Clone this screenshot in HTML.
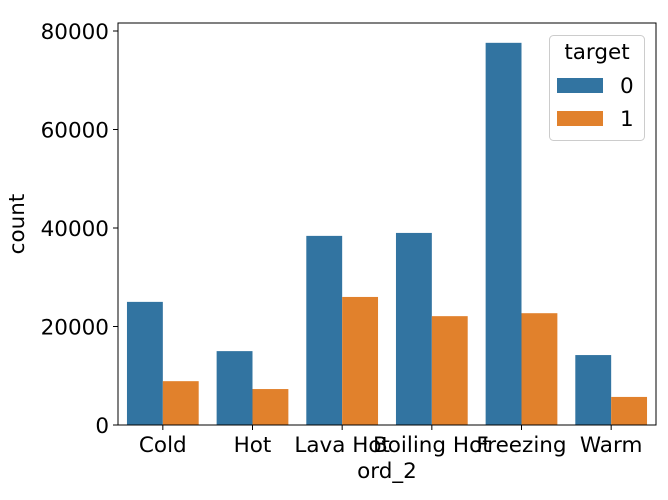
<!DOCTYPE html>
<html><head><meta charset="utf-8"><style>
body{margin:0;background:#fff;}
svg text{font-family:"DejaVu Sans","Liberation Sans",sans-serif;fill:#000;}
</style></head><body>
<svg id="chart" width="668" height="495">
<g id="bars"></g>
<rect x="118" y="23" width="538" height="402" fill="none" stroke="#000" stroke-width="1"/>
<g id="yticks"></g>
<g id="xticks"></g>
<text x="24" y="224" font-size="21.5" text-anchor="middle" transform="rotate(-90 24 224)">count</text>
<text x="387" y="478" font-size="21.5" text-anchor="middle">ord_2</text>
<g>
<rect x="549.5" y="35.5" width="95" height="105" rx="4" fill="#fff" fill-opacity="0.8" stroke="#ccc"/>
<text x="597" y="59" font-size="21.5" text-anchor="middle">target</text>
<rect x="557" y="78" width="46" height="15" fill="#3274a1"/>
<text x="620" y="93" font-size="21.5">0</text>
<rect x="557" y="111" width="46" height="15" fill="#e1812c"/>
<text x="620" y="126" font-size="21.5">1</text>
</g>
</svg>
<script>
const categories=["Cold","Hot","Lava Hot","Boiling Hot","Freezing","Warm"];
const series0=[25000,15000,38400,39000,77600,14200];
const series1=[8900,7300,26000,22100,22700,5700];
const yTicks=[0,20000,40000,60000,80000];
const NS="http://www.w3.org/2000/svg";
const x0=118,x1=656,yBase=425,yTop80=31;
const slot=(x1-x0)/categories.length;
const xc=i=>x0+slot*(i+0.5);
const y=v=>yBase-(v/80000)*(yBase-yTop80);
function mk(t,a,p){const e=document.createElementNS(NS,t);for(const k in a)e.setAttribute(k,a[k]);p.appendChild(e);return e;}
const bars=document.getElementById('bars');
const bw=slot*0.4;
categories.forEach((c,i)=>{
  const b0=mk('rect',{x:xc(i)-bw,y:y(series0[i]),width:bw,height:yBase-y(series0[i]),fill:'#3274a1'},bars);
  
  
  const b1=mk('rect',{x:xc(i),y:y(series1[i]),width:bw,height:yBase-y(series1[i]),fill:'#e1812c'},bars);
  
  
});
const yt=document.getElementById('yticks');
yTicks.forEach(v=>{
  const l=mk('line',{x1:x0-5,x2:x0,y1:y(v),y2:y(v),stroke:'#000'},yt);
  
  
  const t=mk('text',{x:x0-9,y:y(v)+8,'font-size':21.5,'text-anchor':'end'},yt);
  t.textContent=v;
  
  
});
const xt=document.getElementById('xticks');
categories.forEach((c,i)=>{
  const l=mk('line',{x1:xc(i),x2:xc(i),y1:yBase,y2:yBase+5,stroke:'#000'},xt);
  
  
  const t=mk('text',{x:xc(i),y:yBase+27,'font-size':21.5,'text-anchor':'middle'},xt);
  t.textContent=c;
  
  
});
</script>
</body></html>
